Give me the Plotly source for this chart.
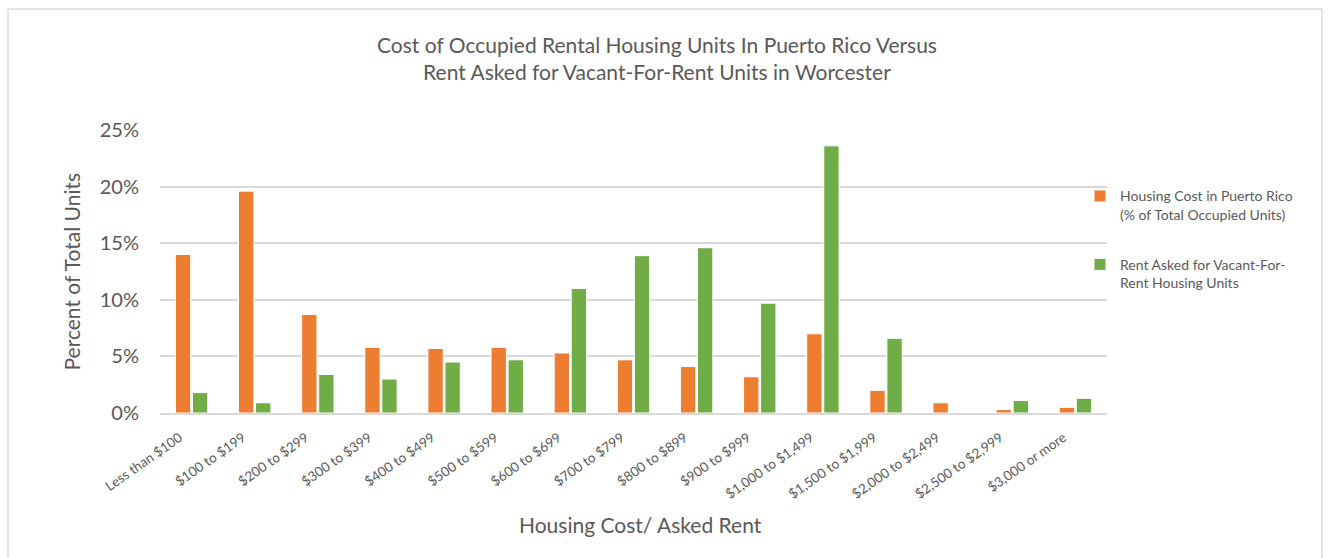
import plotly.graph_objects as go

# Rent brackets on the x axis
categories = [
    "Less than $100", "$100 to $199", "$200 to $299", "$300 to $399",
    "$400 to $499", "$500 to $599", "$600 to $699", "$700 to $799",
    "$800 to $899", "$900 to $999", "$1,000 to $1,499", "$1,500 to $1,999",
    "$2,000 to $2,499", "$2,500 to $2,999", "$3,000 or more",
]

# Share of occupied rental units in Puerto Rico, by monthly housing cost (%)
puerto_rico = [14.0, 19.6, 8.7, 5.8, 5.7, 5.8, 5.3, 4.7, 4.1, 3.2, 7.0, 2.0, 0.9, 0.3, 0.5]

# Share of vacant-for-rent units in Worcester, by rent asked (%)
worcester = [1.8, 0.9, 3.4, 3.0, 4.5, 4.7, 11.0, 13.9, 14.6, 9.7, 23.6, 6.6, 0.0, 1.1, 1.3]

y_ticks = [0, 5, 10, 15, 20, 25]
y_tick_labels = ["0%", "5%", "10%", "15%", "20%", "25%"]

TEXT = "#595959"
GRID = "#D9D9D9"
FONT = "Lato, Carlito, Calibri, sans-serif"

fig = go.Figure()
fig.add_trace(go.Bar(
    x=categories, y=puerto_rico,
    name="Housing Cost in Puerto Rico<br>(% of Total Occupied Units)",
    legendgroup="pr",
    marker=dict(color="#ED7D31", line=dict(color="white", width=1)),
))
fig.add_trace(go.Bar(
    x=categories, y=worcester,
    name="Rent Asked for Vacant-For-<br>Rent Housing Units",
    legendgroup="wo",
    marker=dict(color="#70AD47", line=dict(color="white", width=1)),
))

fig.update_layout(
    width=1328, height=558,
    margin=dict(l=160, r=221, t=130, b=145),
    paper_bgcolor="white", plot_bgcolor="white",
    font=dict(family=FONT, color=TEXT),
    barmode="group", bargap=0.46, bargroupgap=0.1,
    legend=dict(
        x=0.9715, xanchor="left", y=0.822, yanchor="top",
        font=dict(size=14, color=TEXT, family=FONT),
        traceorder="grouped", tracegroupgap=29, valign="top",
        itemwidth=30, bgcolor="rgba(0,0,0,0)",
    ),
    showlegend=True,
)

fig.update_xaxes(
    type="category", tickangle=-35,
    tickfont=dict(size=13.5, color=TEXT, family=FONT),
    showgrid=False, showline=True, linecolor=GRID, linewidth=1.5,
    ticks="", zeroline=False,
    ticklabelstandoff=10, ticklabelshift=-12,
)
fig.update_yaxes(
    range=[0, 25], tickvals=y_ticks, ticktext=y_tick_labels,
    tickfont=dict(size=20, color=TEXT, family=FONT),
    showgrid=True, gridcolor=GRID, gridwidth=1.5,
    zeroline=False, showline=False, ticks="",
    ticklabelstandoff=20,
)

# Chart title
fig.add_annotation(
    text="Cost of Occupied Rental Housing Units In Puerto Rico Versus<br>"
         "Rent Asked for Vacant-For-Rent Units in Worcester",
    xref="paper", yref="paper", x=0.525, y=1.256,
    xanchor="center", yanchor="middle", showarrow=False,
    font=dict(size=21, color=TEXT, family=FONT),
)

# Axis titles
fig.add_annotation(
    text="Housing Cost/ Asked Rent", xref="paper", yref="paper",
    x=0.507, y=-0.395, xanchor="center", yanchor="middle", showarrow=False,
    font=dict(size=21, color=TEXT, family=FONT),
)
fig.add_annotation(
    text="Percent of Total Units", xref="paper", yref="paper",
    x=-0.093, y=0.5, xanchor="center", yanchor="middle", showarrow=False,
    textangle=-90, font=dict(size=21, color=TEXT, family=FONT),
)

# Chart frame
frame = dict(type="line", xref="paper", yref="paper",
             line=dict(color="#D9D9D9", width=1.5))
fig.add_shape(**frame, x0=-0.1605, x1=1.227, y0=1.4276, y1=1.4276)
fig.add_shape(**frame, x0=-0.1605, x1=-0.1605, y0=1.4276, y1=-0.52)
fig.add_shape(**frame, x0=1.227, x1=1.227, y0=1.4276, y1=-0.52)

fig.write_html("out.html")
